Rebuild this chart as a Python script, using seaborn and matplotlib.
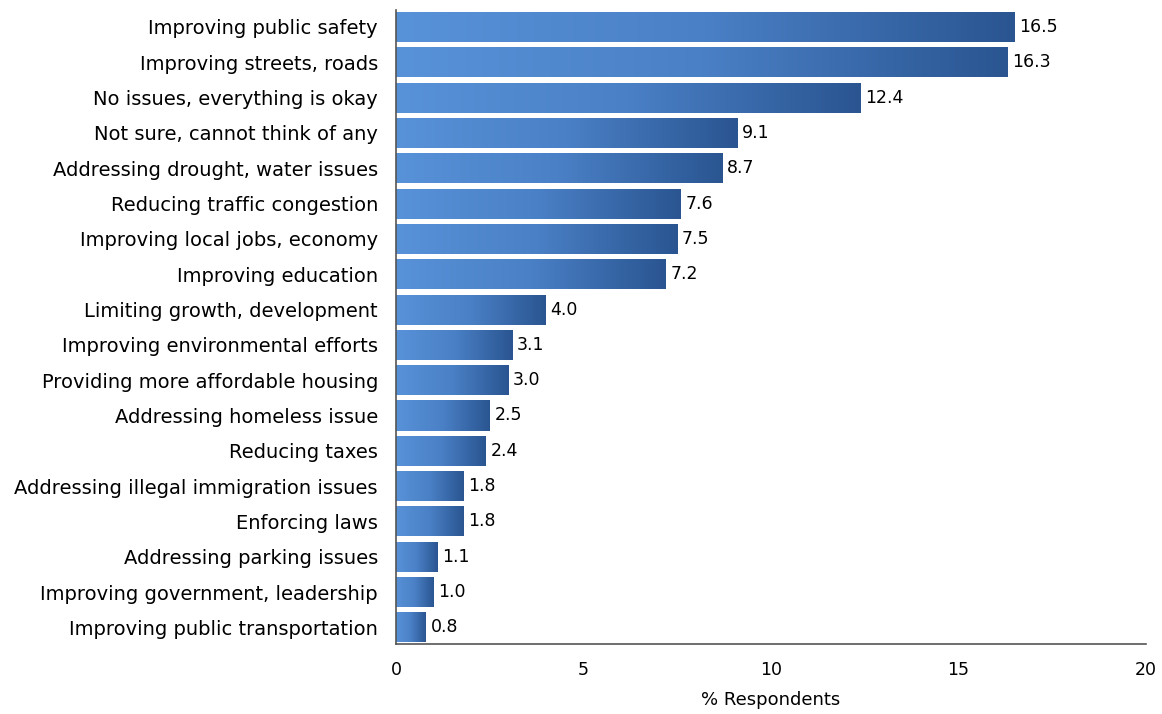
import numpy as np
import pandas as pd
import matplotlib.pyplot as plt
import seaborn as sns
from matplotlib.colors import LinearSegmentedColormap

categories = [
    'Improving public safety',
    'Improving streets, roads',
    'No issues, everything is okay',
    'Not sure, cannot think of any',
    'Addressing drought, water issues',
    'Reducing traffic congestion',
    'Improving local jobs, economy',
    'Improving education',
    'Limiting growth, development',
    'Improving environmental efforts',
    'Providing more affordable housing',
    'Addressing homeless issue',
    'Reducing taxes',
    'Addressing illegal immigration issues',
    'Enforcing laws',
    'Addressing parking issues',
    'Improving government, leadership',
    'Improving public transportation',
]
values = [16.5, 16.3, 12.4, 9.1, 8.7, 7.6, 7.5, 7.2, 4.0, 3.1, 3.0, 2.5, 2.4, 1.8, 1.8, 1.1, 1.0, 0.8]
x_ticks = [0, 5, 10, 15, 20]


def generate_plot(df):
    '''Horizontal bar chart with gradient-filled bars'''
    sns.set_theme(style='white')
    plt.rcParams['font.family'] = ['DejaVu Sans']
    fig = plt.figure(figsize=(11.62, 7.14), dpi=100)
    ax = fig.add_axes([0.3408, 0.098, 0.6454, 0.888])

    sns.barplot(data=df, x='value', y='category', ax=ax, color='#4a7fc4',
                width=0.85, orient='h')

    cmap = LinearSegmentedColormap.from_list('bar', ['#5892d8', '#4a80c6', '#2a5591'])
    grad = np.linspace(0, 1, 256).reshape(1, -1)
    for patch in ax.patches:
        x0, y0 = patch.get_x(), patch.get_y()
        w, h = patch.get_width(), patch.get_height()
        patch.set_facecolor('none')
        patch.set_edgecolor('none')
        im = ax.imshow(grad, cmap=cmap, aspect='auto', interpolation='bilinear',
                       extent=(x0, x0 + w, y0 + h, y0), zorder=2)
        im.set_clip_path(patch)
        ax.text(x0 + w + 0.12, y0 + h / 2, f'{w:.1f}', va='center', ha='left',
                fontsize=12.5, color='black')

    ax.set_xlim(0, 20)
    ax.set_ylim(17.47, -0.48)
    ax.set_xticks(x_ticks)
    ax.set_xticklabels([str(t) for t in x_ticks], fontsize=12.5, color='black')
    ax.tick_params(axis='y', labelsize=14, labelcolor='black', length=0, pad=13)
    ax.tick_params(axis='x', length=0, pad=12)
    ax.set_xlabel('% Respondents', fontsize=13, color='black', labelpad=9)
    ax.set_ylabel('')

    for side in ['top', 'right']:
        ax.spines[side].set_visible(False)
    for side in ['left', 'bottom']:
        ax.spines[side].set_color('#555555')
        ax.spines[side].set_linewidth(1.2)

    fig.savefig('out.png', dpi=100)


def main():
    df = pd.DataFrame({'category': categories, 'value': values})
    generate_plot(df)


if __name__ == '__main__':
    main()
